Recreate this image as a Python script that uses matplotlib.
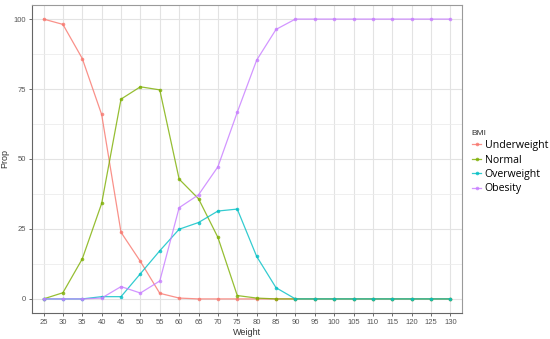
import matplotlib
matplotlib.use("Agg")
import matplotlib.pyplot as plt

weights = [25, 30, 35, 40, 45, 50, 55, 60, 65, 70, 75, 80, 85, 90,
           95, 100, 105, 110, 115, 120, 125, 130]

underweight = [100, 98.1, 85.9, 65.9, 23.8, 13.4, 2.0, 0.3, 0, 0, 0, 0, 0, 0,
               0, 0, 0, 0, 0, 0, 0, 0]
normal = [0, 2.2, 14.3, 34.1, 71.4, 75.8, 74.7, 42.8, 35.8, 22.0, 1.2, 0.3, 0, 0,
          0, 0, 0, 0, 0, 0, 0, 0]
overweight = [0, 0, 0, 0.8, 0.8, 9.0, 17.2, 24.9, 27.3, 31.4, 32.1, 15.2, 4.0, 0,
              0, 0, 0, 0, 0, 0, 0, 0]
obesity = [0, 0, 0, 0.3, 4.4, 2.1, 6.4, 32.6, 37.2, 47.2, 66.7, 85.3, 96.3, 100,
           100, 100, 100, 100, 100, 100, 100, 100]

series = [("Underweight", underweight, "#F8766D"),
          ("Normal", normal, "#7CAE00"),
          ("Overweight", overweight, "#00BFC4"),
          ("Obesity", obesity, "#C77CFF")]

plt.rcParams['font.family'] = ['Liberation Sans', 'DejaVu Sans']

fig = plt.figure(figsize=(5.5, 3.39), dpi=100)
ax = fig.add_axes([0.058, 0.077, 0.782, 0.908])

for name, vals, col in series:
    ax.plot(weights, vals, color=col, lw=0.9, marker='o', ms=2.6, label=name,
            alpha=0.8, markeredgewidth=0)

ax.set_xlim(22, 133)
ax.set_ylim(-5, 105)
ax.set_xticks(weights)
ax.set_xticklabels([str(w) for w in weights])
ax.set_yticks([0, 25, 50, 75, 100])
ax.set_yticks([12.5, 37.5, 62.5, 87.5], minor=True)

ax.grid(True, which='major', color='#e3e3e3', lw=0.8)
ax.grid(True, which='minor', axis='y', color='#ececec', lw=0.6)
ax.set_axisbelow(True)

for s in ax.spines.values():
    s.set_color('#9a9a9a')
    s.set_linewidth(0.8)
ax.spines['left'].set_color('#666666')
ax.spines['bottom'].set_color('#666666')

ax.tick_params(axis='both', which='major', labelsize=5.5, colors='#555555',
               length=2.5, width=0.6, pad=2)
ax.tick_params(axis='y', which='minor', length=0)

ax.set_xlabel("Weight", fontsize=6.5, color='#333333', labelpad=1)
ax.set_ylabel("Prop", fontsize=6.5, color='#333333', labelpad=3)

leg = ax.legend(loc='center left', bbox_to_anchor=(1.018, 0.49), frameon=False,
                title="BMI", handlelength=0.9, handletextpad=0.3,
                labelspacing=0.32, borderaxespad=0, alignment='left',
                borderpad=0.2,
                prop={'family': ['Open Sans', 'DejaVu Sans'], 'size': 7.6})
leg.get_title().set_fontsize(6)
leg.get_title().set_color('#333333')

fig.savefig("out.png", dpi=100)
